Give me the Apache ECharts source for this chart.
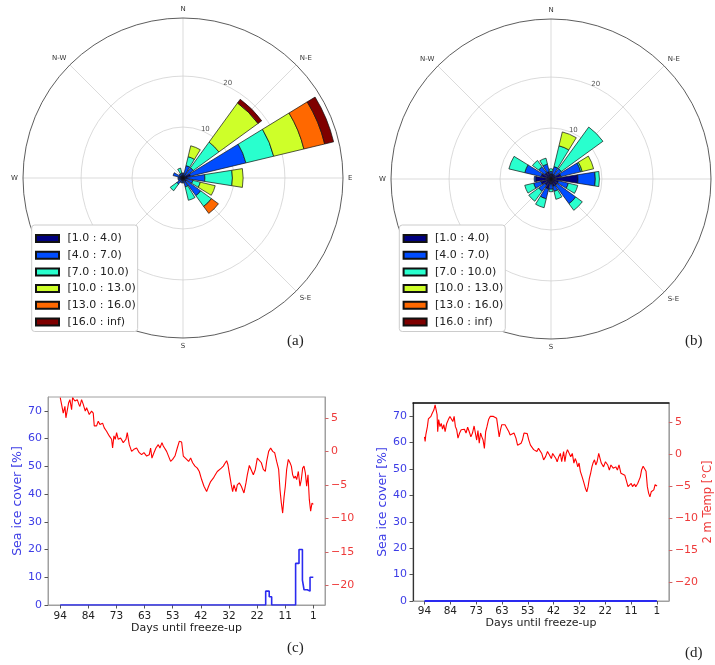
<!DOCTYPE html>
<html><head><meta charset="utf-8">
<script src="https://cdn.jsdelivr.net/npm/echarts@6/dist/echarts.min.js"></script>
<style>html,body{margin:0;padding:0;background:#fff}#c{width:715px;height:665px}</style>
</head><body><div id="c"></div>
<script>
// ---------- wind rose data (frequency %, per speed bin, 16 sectors) ----------
const directions = ['N','NNE','NE','ENE','E','ESE','SE','SSE','S','SSW','SW','WSW','W','WNW','NW','NNW'];
const speedBins = ['[1.0 : 4.0)','[4.0 : 7.0)','[7.0 : 10.0)','[10.0 : 13.0)','[13.0 : 16.0)','[16.0 : inf)'];
const binColors = ['#000080','#004cff','#29ffce','#ceff29','#ff6800','#7f0000'];
const compassLabels = ['N','N-E','E','S-E','S','S-W','W','N-W'];

const roseA_1_4   = [0.5,0.5,0.5,1.5,0.8,0.5,0.8,0.5,0.5,0.5,0.5,0.5,0.5,0.7,0.5,0.5];
const roseA_4_7   = [0.5,2.0,2.0,11.2,3.5,1.5,3.5,1.3,0.5,0.5,1.0,0.5,0.5,1.3,0.5,0.5];
const roseA_7_10  = [0,1.8,6.2,5.6,5.4,1.5,2.6,2.7,0,0,1.6,0,0,0,0,1.0];
const roseA_10_13 = [0,2.2,9.5,6.1,2.1,3.0,0,0,0,0,0,0,0,0,0,0];
const roseA_13_16 = [0,0,0,4.2,0,0,1.7,0,0,0,0,0,0,0,0,0];
const roseA_16_inf= [0,0,0.9,1.8,0,0,0,0,0,0,0,0,0,0,0,0];

const roseB_1_4   = [1.0,1.0,1.0,2.0,5.3,1.5,1.5,1.5,1.0,2.0,1.5,2.0,3.0,2.0,1.5,1.5];
const roseB_4_7   = [0.5,1.5,1.5,4.0,3.4,2.0,4.5,1.0,1.0,2.0,1.5,1.5,0.3,3.3,1.5,1.5];
const roseB_7_10  = [0.5,4.2,10.1,0.3,0.8,1.9,1.6,1.6,0.5,1.8,2.4,1.8,0,3.2,1.5,1.2];
const roseB_10_13 = [0,2.8,0,2.3,0,0,0,0,0,0,0,0,0,0,0,0];
const roseB_13_16 = [0,0,0,0,0,0,0,0,0,0,0,0,0,0,0,0];
const roseB_16_inf= [0,0,0,0,0,0,0,0,0,0,0,0,0,0,0,0];

const ringTicks = [10, 20];

// ---------- time series data ----------
const dayTickValues = [94, 83.67, 73.33, 63, 52.67, 42.33, 32, 21.67, 11.33, 1];
const dayTickLabels = ['94','84','73','63','53','42','32','22','11','1'];
const iceTicks = [0,10,20,30,40,50,60,70];
const tempTicks = [-20,-15,-10,-5,0,5];

const iceDaysC = [94, 18.5, 17.2, 16.3, 7.5, 6.25, 5.0, 4.4, 3.2, 2.2, 1.0];
const iceC     = [0, 5, 3, 0, 15, 20, 9, 5.5, 5, 10, 10];

const tempDaysC = [94,93.51,92.90,92.28,91.92,91.30,90.94,90.45,89.83,89.47,88.61,87.75,87.14,86.77,86.16,85.54,84.81,84.32,83.34,82.48,81.87,81.50,80.64,80.03,79.42,78.44,77.82,76.97,75.99,75.13,74.76,74.27,73.78,73.29,72.68,71.82,70.84,69.86,69.37,68.63,67.77,66.92,65.94,64.96,64.10,63.24,62.26,61.28,60.79,60.30,59.56,58.83,57.97,57.36,56.62,56.13,55.52,54.91,54.29,53.44,52.70,51.84,50.99,50.25,49.39,48.78,48.17,47.55,46.82,46.08,45.35,44.49,43.63,42.90,42.04,41.18,40.20,39.47,38.73,37.75,37.02,36.28,35.55,34.81,34.07,33.34,32.85,32.36,31.87,31.13,30.64,30.15,29.42,28.93,28.19,27.46,26.97,26.48,25.74,25.25,24.51,23.78,23.04,22.31,21.57,20.84,20.10,19.37,18.63,18.14,17.40,16.67,15.94,15.20,14.47,13.73,13.24,12.75,12.26,11.77,11.28,10.79,10.18,9.56,9.07,8.58,8.09,7.60,7.11,6.50,5.89,5.40,4.91,4.42,3.93,3.44,2.95,2.46,1.97,1.48,1.0];
const tempC = [8.0,7.0,5.7,6.7,5.0,4.8,7.2,7.7,6.2,8.0,7.5,7.7,7.0,6.7,7.7,7.0,6.0,6.5,5.5,6.0,5.7,3.8,3.8,4.5,4.0,4.2,3.5,3.0,2.3,1.8,0.5,2.3,1.8,2.8,1.8,2.0,1.3,1.8,2.8,1.0,0.0,0.3,0.5,-0.2,-0.5,-0.2,-0.7,-0.5,0.5,-1.0,-0.2,0.5,1.0,0.5,1.3,0.8,1.0,0.0,-0.2,-1.5,-1.2,-0.7,0.5,1.5,1.4,-0.7,-0.5,-1.2,-1.5,-1.0,-1.7,-2.2,-2.5,-3.0,-4.2,-5.2,-6.0,-5.2,-4.5,-4.0,-3.5,-3.0,-3.0,-2.5,-2.2,-1.7,-1.4,-2.0,-3.2,-5.0,-6.0,-5.0,-6.0,-5.0,-4.7,-5.2,-5.0,-6.2,-4.7,-3.5,-2.1,-2.2,-3.5,-2.7,-1.0,-1.0,-1.7,-2.7,-3.0,-1.5,0.0,0.5,0.0,-0.2,-1.5,-2.7,-5.7,-7.7,-9.2,-6.9,-5.2,-2.7,-1.2,-1.7,-2.2,-3.5,-4.0,-3.7,-4.2,-3.0,-5.2,-4.2,-2.5,-2.2,-3.2,-5.2,-3.5,-7.2,-8.9,-7.7,-7.9];

const iceDaysD = [94, 1];
const iceD     = [0, 0];

const tempDaysD = [94,93.74,93.48,92.84,92.45,91.94,91.42,90.91,90.26,89.75,89.36,88.97,88.72,88.33,87.81,87.30,86.78,86.27,85.75,85.11,84.46,83.82,83.18,82.66,82.14,81.63,81.11,80.60,79.95,79.31,78.67,78.02,77.38,76.73,76.09,75.44,74.80,74.15,73.51,73.12,72.61,72.09,71.58,71.06,70.55,70.03,69.52,69.00,68.36,67.71,67.07,66.42,65.78,65.13,64.49,64.10,63.59,63.07,62.56,61.78,61.01,60.24,59.72,58.95,58.18,57.40,56.76,56.11,55.34,54.82,54.18,53.54,52.89,52.25,51.60,50.96,50.31,49.67,49.03,48.38,47.61,47.09,46.32,45.55,44.77,44.00,43.23,42.71,42.20,41.42,40.91,40.26,39.62,39.10,38.33,37.81,37.30,36.78,36.14,35.49,34.85,34.21,33.69,33.18,32.66,32.14,31.63,30.98,30.34,29.57,29.05,28.54,28.02,27.51,27.00,26.48,25.97,25.45,24.93,24.28,23.25,22.35,21.58,20.68,20.03,19.39,18.49,17.46,16.81,16.16,15.39,14.62,13.85,13.33,12.56,11.79,11.27,10.76,9.98,9.47,8.69,8.18,7.66,7.14,6.50,5.86,5.34,4.82,4.31,3.79,3.27,2.76,2.24,1.72,1.21,0.95];
const tempD = [2.7,2.0,3.0,4.3,5.5,5.6,5.9,6.4,6.9,7.7,7.9,6.2,3.5,5.4,4.3,4.8,3.9,4.6,3.5,4.8,5.4,5.9,6.2,5.1,5.9,4.3,3.8,2.5,3.3,3.8,3.5,3.9,3.3,4.2,3.5,2.7,3.3,4.4,4.2,2.2,3.7,1.7,3.3,2.7,2.2,0.9,3.5,4.3,5.4,5.9,5.6,5.9,6.2,5.6,5.3,2.7,3.8,4.6,4.3,4.6,4.4,3.5,3.0,2.7,3.3,2.5,1.4,1.2,1.7,2.2,3.3,3.4,3.2,2.2,1.4,1.2,0.7,0.9,0.4,0.9,0.8,0.1,-0.9,-0.4,0.4,0.1,-0.7,0.1,0.4,-0.7,-1.2,-0.4,0.1,-1.2,0.4,-1.2,0.1,0.7,0.9,-0.4,0.1,-1.4,-0.7,-1.2,-2.0,-1.4,-2.7,-3.5,-4.3,-5.4,-5.9,-5.1,-3.8,-3.0,-2.0,-1.3,-0.9,-1.7,-1.2,0.1,-1.4,-2.0,-1.2,-1.7,-2.5,-1.7,-2.2,-2.0,-2.5,-1.7,-3.0,-2.7,-3.3,-4.0,-5.1,-5.4,-4.6,-5.1,-4.7,-5.1,-4.6,-4.8,-3.6,-2.5,-1.9,-2.0,-2.7,-5.1,-6.1,-6.7,-5.9,-6.1,-5.6,-4.8,-5.1,-5.0];

// ---------- build ----------
const zip = (a, b) => a.map((v, i) => [v, b[i]]);
const minus = v => String(v).replace('-', '\u2212');
const roses = [
  [roseA_1_4, roseA_4_7, roseA_7_10, roseA_10_13, roseA_13_16, roseA_16_inf],
  [roseB_1_4, roseB_4_7, roseB_7_10, roseB_10_13, roseB_13_16, roseB_16_inf]
];
const roseCenters = [[183, 178], [551, 179]];
const R = 160, RMAX = 31.4;
const FONT = 'DejaVu Sans';

const polar = [], angleAxis = [], radiusAxis = [], series = [], legend = [];
const legendLefts = [31.7, 399.3];

roses.forEach((bins, r) => {
  const c = roseCenters[r];
  const pSpoke = polar.length;
  polar.push({center: c, radius: R});
  angleAxis.push({polarIndex: pSpoke, type: 'value', min: 0, max: 360, interval: 45, startAngle: 90, clockwise: true,
    axisLine: {show: true, lineStyle: {color: '#333', width: 0.8}},
    axisTick: {show: false},
    splitLine: {show: true, lineStyle: {color: '#d2d2d2', width: 0.8}},
    axisLabel: {show: true, margin: 5, fontSize: 7, color: '#333', fontFamily: FONT,
      formatter: v => (v < 360 && compassLabels[Math.round(v / 45)]) ? compassLabels[Math.round(v / 45)] : ''}});
  radiusAxis.push({polarIndex: pSpoke, type: 'value', min: 0, max: RMAX,
    axisLine: {show: false}, axisTick: {show: false}, axisLabel: {show: false}, splitLine: {show: false}});

  const pRing = polar.length;
  polar.push({center: c, radius: R * 20 / RMAX});
  angleAxis.push({polarIndex: pRing, type: 'value', min: 0, max: 360, startAngle: 64, clockwise: true,
    axisLine: {show: false}, axisTick: {show: false}, axisLabel: {show: false}, splitLine: {show: false}});
  radiusAxis.push({polarIndex: pRing, type: 'value', min: 0, max: 20, interval: 10,
    axisLine: {show: false}, axisTick: {show: false},
    axisLabel: {show: true, margin: 0, fontSize: 7, color: '#555', fontFamily: FONT, align: 'center', verticalAlign: 'bottom',
      formatter: v => ringTicks.indexOf(v) >= 0 ? String(v) : ''},
    splitLine: {show: true, lineStyle: {color: '#d2d2d2', width: 0.8}}});

  const pBar = polar.length;
  polar.push({center: c, radius: R});
  angleAxis.push({polarIndex: pBar, type: 'category', data: directions, startAngle: 90 + 11.25, clockwise: true, boundaryGap: true,
    axisLine: {show: false}, axisTick: {show: false}, axisLabel: {show: false}, splitLine: {show: false}});
  radiusAxis.push({polarIndex: pBar, type: 'value', min: 0, max: RMAX,
    axisLine: {show: false}, axisTick: {show: false}, axisLabel: {show: false}, splitLine: {show: false}});

  bins.forEach((vals, b) => {
    series.push({type: 'bar', coordinateSystem: 'polar', polarIndex: pBar, name: speedBins[b], stack: 'rose' + r,
      barCategoryGap: '20%', data: vals.map(v => v > 0 ? v : null),
      itemStyle: {color: binColors[b], borderColor: '#111', borderWidth: 0.7},
      emphasis: {disabled: true}, silent: true});
  });

  legend.push({data: speedBins, orient: 'vertical', left: legendLefts[r], top: 225, icon: 'rect',
    itemWidth: 23, itemHeight: 7, itemGap: 3.7, padding: [7, 2, 3, 3.3],
    backgroundColor: '#fff', borderColor: '#cccccc', borderWidth: 1, borderRadius: 3,
    selectedMode: false, z: 10,
    textStyle: {fontSize: 11, lineHeight: 13, color: '#222', fontFamily: FONT, padding: [0, 0, 0, 3.4]}});
});

const blueTxt = '#3c3ce6', redTxt = '#ee3a3a', spine = '#a0a0a0';
function xAx(grid, min, max, margin, gap) {
  return {gridIndex: grid, type: 'value', inverse: true, min: min, max: max,
    axisLine: {show: true, onZero: false, lineStyle: {color: spine}},
    axisTick: {show: true, customValues: dayTickValues, length: 3.5, lineStyle: {color: '#555'}},
    axisLabel: {customValues: dayTickValues, fontSize: 10.5, color: '#222', margin: margin, fontFamily: FONT,
      formatter: v => dayTickLabels[dayTickValues.indexOf(v)] || String(Math.round(v))},
    splitLine: {show: false},
    name: 'Days until freeze-up', nameLocation: 'middle', nameGap: gap,
    nameTextStyle: {fontSize: 11, color: '#222', fontFamily: FONT}};
}
function iceAx(grid, lineColor, lineW) {
  return {gridIndex: grid, type: 'value', position: 'left', min: 0, max: 75,
    axisLine: {show: true, onZero: false, lineStyle: {color: lineColor, width: lineW}},
    axisTick: {show: true, customValues: iceTicks, length: 3.5, lineStyle: {color: '#555'}},
    axisLabel: {customValues: iceTicks, fontSize: 11, color: blueTxt, margin: 6, fontFamily: FONT},
    splitLine: {show: false},
    name: 'Sea ice cover [%]', nameLocation: 'middle', nameGap: 20,
    nameTextStyle: {fontSize: 12.5, color: blueTxt, fontFamily: FONT}};
}
function tempAx(grid, min, max, name) {
  const ax = {gridIndex: grid, type: 'value', position: 'right', min: min, max: max,
    axisLine: {show: true, onZero: false, lineStyle: {color: spine}},
    axisTick: {show: true, customValues: tempTicks, length: 3.5, lineStyle: {color: '#c66'}},
    axisLabel: {customValues: tempTicks, fontSize: 11, color: redTxt, margin: 6, fontFamily: FONT, formatter: minus},
    splitLine: {show: false}};
  if (name) {
    ax.name = name; ax.nameLocation = 'middle'; ax.nameGap = 21;
    ax.nameTextStyle = {fontSize: 11.5, color: redTxt, fontFamily: FONT};
  }
  return ax;
}

const xTopD = {gridIndex: 1, type: 'value', position: 'top', inverse: true, min: -3.8, max: 98.6,
  axisLine: {show: true, onZero: false, lineStyle: {color: '#111', width: 1.5}}, axisTick: {show: false}, axisLabel: {show: false}, splitLine: {show: false}};

series.push(
  {type: 'line', xAxisIndex: 0, yAxisIndex: 0, data: zip(iceDaysC, iceC), step: 'end', showSymbol: false,
   lineStyle: {color: '#2a2af0', width: 1.6}, z: 4, silent: true},
  {type: 'line', xAxisIndex: 0, yAxisIndex: 1, data: zip(tempDaysC, tempC), showSymbol: false,
   lineStyle: {color: '#ff0000', width: 1.1}, z: 3, silent: true},
  {type: 'line', xAxisIndex: 1, yAxisIndex: 2, data: zip(iceDaysD, iceD), showSymbol: false,
   lineStyle: {color: '#2a2af0', width: 2}, z: 4, silent: true},
  {type: 'line', xAxisIndex: 1, yAxisIndex: 3, data: zip(tempDaysD, tempD), showSymbol: false,
   lineStyle: {color: '#ff0000', width: 1.1}, z: 3, silent: true}
);

const serif = {fontFamily: 'Liberation Serif', fontSize: 15, fontWeight: 'normal', color: '#222'};
const option = {
  backgroundColor: '#fff',
  animation: false,
  textStyle: {fontFamily: FONT},
  title: [
    {text: '(a)', left: 287, top: 334, padding: 0, textStyle: serif},
    {text: '(b)', left: 685, top: 334, padding: 0, textStyle: serif},
    {text: '(c)', left: 287, top: 641, padding: 0, textStyle: serif},
    {text: '(d)', left: 685, top: 646, padding: 0, textStyle: serif}
  ],
  legend: legend,
  polar: polar, angleAxis: angleAxis, radiusAxis: radiusAxis,
  grid: [
    {left: 48, right: 390, top: 397, bottom: 60, show: true, borderColor: spine, borderWidth: 1},
    {left: 413, right: 37, top: 403, bottom: 64, show: true, borderColor: spine, borderWidth: 1}
  ],
  xAxis: [xAx(0, -3.3, 98.5, 6, 17.5), xAx(1, -3.8, 98.6, 5, 16), xTopD],
  yAxis: [iceAx(0, spine, 1), tempAx(0, -22.9, 8.1, null), iceAx(1, '#333', 1.2), tempAx(1, -23, 8, '2 m Temp [°C]')],
  series: series
};
const chart = echarts.init(document.getElementById('c'));
chart.setOption(option);
</script></body></html>
